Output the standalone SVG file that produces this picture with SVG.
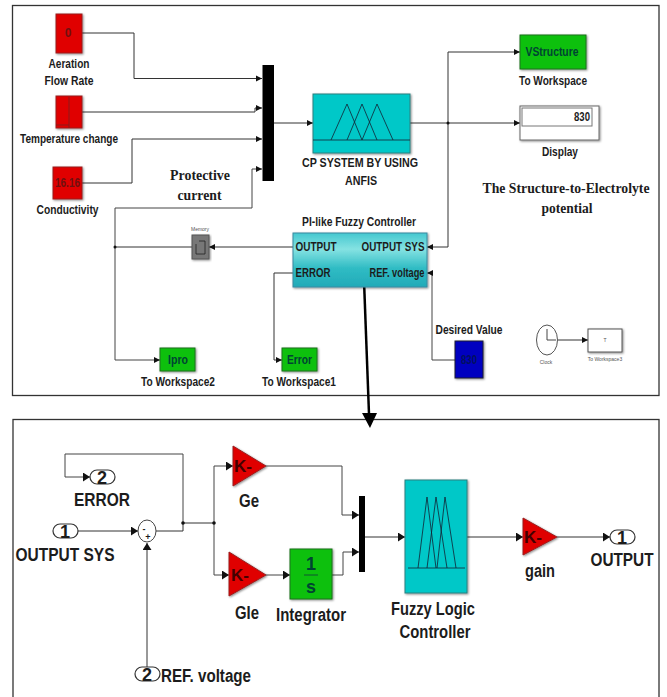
<svg xmlns="http://www.w3.org/2000/svg" width="667" height="697" viewBox="0 0 667 697">
<defs>
<marker id="a" markerUnits="userSpaceOnUse" markerWidth="8" markerHeight="8" refX="6" refY="3.5" orient="auto"><path d="M0 0.5L6 3.5L0 6.5z" fill="#111"/></marker>
<marker id="b" markerUnits="userSpaceOnUse" markerWidth="9" markerHeight="10" refX="7" refY="4.5" orient="auto"><path d="M0 0L7 4.5L0 9z" fill="#111"/></marker>
<linearGradient id="pi" x1="0" y1="0" x2="0" y2="1"><stop offset="0" stop-color="#45c8d0"/><stop offset=".3" stop-color="#85e2e2"/><stop offset=".65" stop-color="#30bcc4"/><stop offset="1" stop-color="#22aab8"/></linearGradient>
<filter id="sh" x="-15%" y="-15%" width="130%" height="130%"><feDropShadow dx="1" dy="1" stdDeviation="0.8" flood-color="#000" flood-opacity=".45"/></filter>
</defs>
<style>
text{font-family:"Liberation Sans",Arial,sans-serif;fill:#1c1c1c;text-anchor:middle}
.l{font-size:12px;font-weight:bold}
.L{font-size:18px;font-weight:bold}
.s{font-family:"Liberation Serif","Times New Roman",serif;font-size:15px;font-weight:bold}
.t{font-size:5px;font-weight:normal;fill:#555}
.d{font-size:18px;font-weight:bold}
.k{font-size:17px;font-weight:bold;fill:#400}
.i{fill:#043}
.frame{fill:#fff;stroke:#333;stroke-width:1.3}
.c{fill:none;stroke:#333;stroke-width:1}
.c2{fill:none;stroke:#444;stroke-width:1}
.red{fill:#e00000;stroke:#9a2020;stroke-width:1;filter:url(#sh)}
.grn{fill:#10c010;stroke:#1a701a;stroke-width:1;filter:url(#sh)}
.cy{fill:#00c8c8;stroke:#2a8080;stroke-width:1;filter:url(#sh)}
.m{fill:none;stroke:#123;stroke-width:.8}
.p{fill:#fff;stroke:#333;stroke-width:1.2}
</style>
<rect width="667" height="697" fill="#fff"/>
<rect class="frame" x="12.500" y="5.500" width="646.500" height="390"/>
<rect class="frame" x="13" y="419.500" width="646" height="290"/>
<g id="connectors">
<path class="c" marker-end="url(#a)" d="M82 33H134V78.500H262"/>
<path class="c" marker-end="url(#a)" d="M82 112H255V108H262"/>
<path class="c" marker-end="url(#a)" d="M82 183H132V139H262"/>
<path class="c2" marker-end="url(#a)" d="M115 208H252V169H262"/>
<path class="c2" marker-end="url(#a)" d="M115 208V360H160"/>
<path class="c" marker-end="url(#a)" d="M274 123H313"/>
<path class="c" marker-end="url(#a)" d="M410 123H520"/>
<path class="c" marker-end="url(#a)" d="M448 123V52H520"/>
<path class="c" marker-end="url(#a)" d="M448 123V247H427"/>
<path class="c2" marker-end="url(#a)" d="M455 360H432V273H427"/>
<path class="c" marker-end="url(#a)" d="M293 247H209"/>
<path class="c" d="M192 247H115"/>
<path class="c" marker-end="url(#a)" d="M293 273H274V360H282"/>
<path class="c" marker-end="url(#a)" d="M558 340H588"/>
<circle cx="448" cy="123" r="1.500" fill="#111"/>
<circle cx="115" cy="247" r="1.500" fill="#111"/>
<path class="c2" marker-end="url(#b)" d="M183 523V454H65V477H90"/>
<path class="c" marker-end="url(#b)" d="M78 531H138"/>
<path class="c" d="M156 531H183V523H214"/>
<path class="c" marker-end="url(#b)" d="M147 667V543"/>
<path class="c2" marker-end="url(#b)" d="M214 523V466H233"/>
<path class="c2" marker-end="url(#b)" d="M214 523V575H229"/>
<path class="c2" marker-end="url(#b)" d="M266 575H290"/>
<path class="c2" marker-end="url(#b)" d="M266 466H342V515H359"/>
<path class="c2" marker-end="url(#b)" d="M332 575H343V552H359"/>
<path class="c" marker-end="url(#b)" d="M365 537H405"/>
<path class="c" marker-end="url(#b)" d="M467 537H523"/>
<path class="c" marker-end="url(#b)" d="M557 537H610"/>
<circle cx="183" cy="523" r="1.800" fill="#111"/>
<circle cx="214" cy="523" r="1.800" fill="#111"/>
<path d="M363 254L369 414" fill="none" stroke="#000" stroke-width="2.500"/>
<path d="M362 413H377L370 428z" fill="#000"/>
</g>
<g id="aeration"><rect class="red" x="56" y="14" width="26" height="39"/><text class="l" x="68" y="37" style="fill:#701010">0</text><text class="l" x="69" y="68" textLength="41" lengthAdjust="spacingAndGlyphs">Aeration</text><text class="l" x="69" y="85" textLength="49" lengthAdjust="spacingAndGlyphs">Flow Rate</text></g>
<g id="temperature"><rect class="red" x="56" y="96" width="26" height="32"/><path d="M69 97V128M56 125H69" stroke="#8a1a1a" fill="none"/><text class="l" x="69" y="143" textLength="98" lengthAdjust="spacingAndGlyphs">Temperature change</text></g>
<g id="conductivity"><rect class="red" x="53" y="167" width="29" height="32"/><text class="l" x="67.500" y="187" textLength="25" lengthAdjust="spacingAndGlyphs" style="fill:#701010">16.16</text><text class="l" x="67.500" y="214" textLength="62" lengthAdjust="spacingAndGlyphs">Conductivity</text></g>
<g id="mux1"><rect x="262.500" y="65" width="11.500" height="116" fill="#000"/></g>
<g id="anfis"><rect class="cy" x="313" y="94" width="97" height="59"/><path class="m" d="M313 140H410M331 140L347 104L362 140M347 140L362 104L377 140M362 140L377 104L393 140"/><text class="l" x="360" y="167" textLength="116" lengthAdjust="spacingAndGlyphs">CP SYSTEM BY USING</text><text class="l" x="361" y="185" textLength="32" lengthAdjust="spacingAndGlyphs">ANFIS</text></g>
<g id="vstructure"><rect class="grn" x="520" y="35" width="66" height="34"/><text class="l i" x="552" y="56" textLength="53" lengthAdjust="spacingAndGlyphs">VStructure</text><text class="l" x="553" y="85" textLength="68" lengthAdjust="spacingAndGlyphs">To Workspace</text></g>
<g id="display"><rect x="520" y="106" width="79" height="34" fill="#fff" stroke="#666" filter="url(#sh)"/><rect x="522" y="108" width="70" height="18" fill="#fff" stroke="#777"/><text class="l" x="582" y="121" textLength="16" lengthAdjust="spacingAndGlyphs">830</text><text class="l" x="560" y="156" textLength="36" lengthAdjust="spacingAndGlyphs">Display</text></g>
<g id="titles"><text class="s" x="200" y="180" textLength="60" lengthAdjust="spacingAndGlyphs">Protective</text><text class="s" x="199.500" y="200" textLength="44" lengthAdjust="spacingAndGlyphs">current</text><text class="s" x="566" y="193" textLength="167" lengthAdjust="spacingAndGlyphs">The Structure-to-Electrolyte</text><text class="s" x="567" y="213" textLength="51" lengthAdjust="spacingAndGlyphs">potential</text></g>
<g id="pi-controller"><rect x="293" y="233" width="134" height="54" fill="url(#pi)" stroke="#3a8aa0" filter="url(#sh)"/><text class="l" x="359" y="226" textLength="114" lengthAdjust="spacingAndGlyphs">PI-like Fuzzy Controller</text><text class="l" x="316" y="251" textLength="41" lengthAdjust="spacingAndGlyphs">OUTPUT</text><text class="l" x="393" y="251" textLength="63" lengthAdjust="spacingAndGlyphs">OUTPUT SYS</text><text class="l" x="313" y="277" textLength="35" lengthAdjust="spacingAndGlyphs">ERROR</text><text class="l" x="397" y="277" textLength="55" lengthAdjust="spacingAndGlyphs">REF. voltage</text></g>
<g id="memory"><rect x="192" y="235" width="17" height="24" fill="#777" stroke="#555" filter="url(#sh)"/><path d="M199 241H205V254H196V244" fill="none" stroke="#222" stroke-width=".8"/><text class="t" x="200" y="231">Memory</text></g>
<g id="ipro"><rect class="grn" x="160" y="348" width="35" height="23"/><text class="l i" x="178" y="364" textLength="20" lengthAdjust="spacingAndGlyphs">Ipro</text><text class="l" x="178" y="386" textLength="74" lengthAdjust="spacingAndGlyphs">To Workspace2</text></g>
<g id="error"><rect class="grn" x="282" y="348" width="35" height="23"/><text class="l i" x="299.500" y="364" textLength="25" lengthAdjust="spacingAndGlyphs">Error</text><text class="l" x="299" y="386" textLength="74" lengthAdjust="spacingAndGlyphs">To Workspace1</text></g>
<g id="desired"><rect x="455" y="341" width="28" height="37" fill="#0000c0" stroke="#223" filter="url(#sh)"/><text class="l" x="469" y="364" textLength="16" lengthAdjust="spacingAndGlyphs" style="fill:#001060">830</text><text class="l" x="469" y="334" textLength="67" lengthAdjust="spacingAndGlyphs">Desired Value</text></g>
<g id="clock"><ellipse cx="547" cy="340" rx="10.500" ry="15" fill="#fff" stroke="#555"/><path d="M547 329V340H556" fill="none" stroke="#444"/><text class="t" x="546" y="364">Clock</text></g>
<g id="workspace3"><rect x="588" y="329" width="34" height="23" fill="#fff" stroke="#555" filter="url(#sh)"/><text class="t" x="605" y="342">T</text><text class="t" x="605" y="361">To Workspace3</text></g>
<g id="out-error"><rect class="p" x="90" y="470" width="25" height="14" rx="7"/><text class="d" x="102" y="483.500">2</text><text class="L" x="102" y="506" textLength="56" lengthAdjust="spacingAndGlyphs">ERROR</text></g>
<g id="in-output"><rect class="p" x="53" y="524" width="25" height="14" rx="7"/><text class="d" x="65" y="537.500">1</text><text class="L" x="65" y="561" textLength="99" lengthAdjust="spacingAndGlyphs">OUTPUT SYS</text></g>
<g id="sum"><ellipse cx="147" cy="531" rx="9" ry="11" fill="#fff" stroke="#444"/><text class="l" x="144" y="532" style="font-size:9px">-</text><text class="l" x="148" y="540" style="font-size:9px">+</text></g>
<g id="in-ref"><rect class="p" x="135" y="667" width="25" height="14" rx="7"/><text class="d" x="147" y="680.500">2</text><text class="L" x="206" y="682" textLength="90" lengthAdjust="spacingAndGlyphs">REF. voltage</text></g>
<g id="ge"><path class="red" d="M233 446L266 466L233 486z"/><text class="k" x="243" y="472">K-</text><text class="L" x="249" y="507" textLength="20" lengthAdjust="spacingAndGlyphs">Ge</text></g>
<g id="gie"><path class="red" d="M229 552L266 575L229 596z"/><text class="k" x="240" y="581">K-</text><text class="L" x="247" y="619" textLength="24" lengthAdjust="spacingAndGlyphs">GIe</text></g>
<g id="integrator"><rect class="grn" x="290" y="549" width="42" height="50"/><path d="M304 575H318" stroke="#153" fill="none"/><text class="L i" x="311" y="570">1</text><text class="L i" x="311" y="593">s</text><text class="L" x="311" y="621" textLength="70" lengthAdjust="spacingAndGlyphs">Integrator</text></g>
<g id="mux2"><rect x="359" y="496" width="6" height="76" fill="#000"/></g>
<g id="fuzzy"><rect class="cy" x="405" y="480" width="62" height="113"/><path class="m" d="M408 568H465M418 568L427 497L436 568M427 568L436 497L447 568M437 568L445 497L456 568"/><text class="L" x="433" y="615" textLength="84" lengthAdjust="spacingAndGlyphs">Fuzzy Logic</text><text class="L" x="435" y="638" textLength="71" lengthAdjust="spacingAndGlyphs">Controller</text></g>
<g id="gain"><path class="red" d="M523 518L557 537L523 555z"/><text class="k" x="533" y="543">K-</text><text class="L" x="540" y="577" textLength="30" lengthAdjust="spacingAndGlyphs">gain</text></g>
<g id="out-output"><rect class="p" x="610" y="530" width="25" height="14" rx="7"/><text class="d" x="622" y="543.500">1</text><text class="L" x="622" y="566" textLength="63" lengthAdjust="spacingAndGlyphs">OUTPUT</text></g>
</svg>
